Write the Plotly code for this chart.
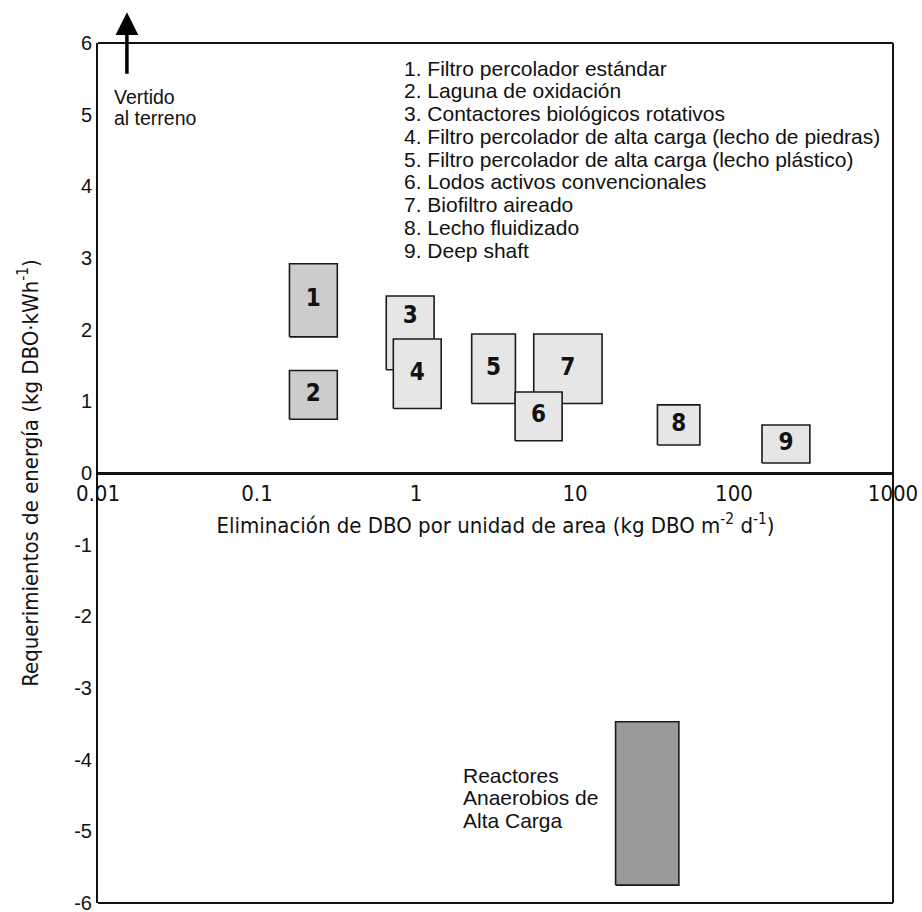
import plotly.graph_objects as go
import math

# ---- data ----
box_ids = ["1", "2", "3", "4", "5", "7", "6", "8", "9"]  # drawing order (later boxes on top)
box_x0 = [0.16, 0.16, 0.65, 0.72, 2.24, 5.5, 4.2, 33.0, 150.0]
box_x1 = [0.32, 0.32, 1.3, 1.44, 4.22, 14.8, 8.3, 61.0, 300.0]
box_y0 = [1.90, 0.75, 1.44, 0.90, 0.97, 0.97, 0.45, 0.39, 0.14]
box_y1 = [2.92, 1.43, 2.47, 1.87, 1.94, 1.94, 1.13, 0.95, 0.67]
box_group = ["dark", "dark", "light", "light", "light", "light", "light", "light", "light"]

anaer_x = [18.0, 45.0]
anaer_y = [-5.75, -3.47]

legend_items = [
    "1. Filtro percolador estándar",
    "2. Laguna de oxidación",
    "3. Contactores biológicos rotativos",
    "4. Filtro percolador de alta carga (lecho de piedras)",
    "5. Filtro percolador de alta carga (lecho plástico)",
    "6. Lodos activos convencionales",
    "7. Biofiltro aireado",
    "8. Lecho fluidizado",
    "9. Deep shaft",
]
land_lines = ["Vertido", "al terreno"]
anaer_lines = ["Reactores", "Anaerobios de", "Alta Carga"]

x_tickvals = [0.01, 0.1, 1, 10, 100, 1000]
x_ticktext = ["0.01", "0.1", "1", "10", "100", "1000"]
y_tickvals = [6, 5, 4, 3, 2, 1, 0, -1, -2, -3, -4, -5, -6]
y_ticktext = ["6", "5", "4", "3", "2", "1", "0", "-1", "-2", "-3", "-4", "-5", "-6"]

arrow_x = 0.0152
arrow_y_tail = 5.55
arrow_y_tip = 6.43

# ---- styles ----
ARIAL = "Liberation Sans, Arial, sans-serif"
NARROW = "Liberation Sans Narrow, Arial Narrow, DejaVu Sans Condensed, sans-serif"
fills = {"dark": "#cccccc", "light": "#e6e6e6"}
INK = "#111111"

fig = go.Figure()

for bid, x0, x1, y0, y1, g in zip(box_ids, box_x0, box_x1, box_y0, box_y1, box_group):
    fig.add_trace(go.Scatter(
        x=[x0, x1, x1, x0, x0], y=[y0, y0, y1, y1, y0],
        mode="lines", fill="toself", fillcolor=fills[g],
        line=dict(color="#1a1a1a", width=1.6), hoverinfo="skip", showlegend=False,
    ))

# label positions: geometric centre; box 3 label in its uncovered upper part
lab_x, lab_y = [], []
top4 = box_y1[box_ids.index("4")]
for bid, x0, x1, y0, y1 in zip(box_ids, box_x0, box_x1, box_y0, box_y1):
    lab_x.append(math.sqrt(x0 * x1))
    lab_y.append((top4 + y1) / 2 if bid == "3" else (y0 + y1) / 2)

fig.add_trace(go.Scatter(
    x=lab_x, y=lab_y, mode="text", text=[f"<b>{b}</b>" for b in box_ids],
    textfont=dict(family=NARROW, size=24, color=INK),
    hoverinfo="skip", showlegend=False,
))

fig.add_trace(go.Scatter(
    x=[anaer_x[0], anaer_x[1], anaer_x[1], anaer_x[0], anaer_x[0]],
    y=[anaer_y[0], anaer_y[0], anaer_y[1], anaer_y[1], anaer_y[0]],
    mode="lines", fill="toself", fillcolor="#9a9a9a",
    line=dict(color="#1a1a1a", width=1.6), hoverinfo="skip", showlegend=False,
))

PX_PER_UNIT = 860 / 12.0  # vertical scale of the plot area (for tight line spacing)


def text_block(lines, x_log, y_first, spacing_px, size):
    out = []
    for i, t in enumerate(lines):
        out.append(dict(x=x_log, y=y_first - i * spacing_px / PX_PER_UNIT, xref="x", yref="y",
                        xanchor="left", yanchor="middle", align="left", showarrow=False,
                        text=t, font=dict(family=ARIAL, size=size, color=INK)))
    return out


annotations = []
annotations += text_block(legend_items, -0.085, 5.651, 22.75, 21)
annotations += text_block(land_lines, -1.91, 5.25, 21.0, 19.5)
annotations += text_block(anaer_lines, 0.286, -4.22, 22.5, 21)
annotations.append(
    dict(x=math.log10(arrow_x), y=arrow_y_tip, ax=math.log10(arrow_x), ay=arrow_y_tail,
         xref="x", yref="y", axref="x", ayref="y", showarrow=True, text="",
         arrowhead=2, arrowsize=1.3, arrowwidth=3.5, arrowcolor="black", standoff=0))

frame = dict(color=INK, width=2)
fig.update_layout(
    width=922, height=912,
    margin=dict(l=98, r=29, t=43, b=9, autoexpand=False),
    plot_bgcolor="white", paper_bgcolor="white",
    showlegend=False,
    annotations=annotations,
    shapes=[
        dict(type="line", xref="paper", yref="paper", x0=0, x1=1, y0=1, y1=1, line=frame, layer="above"),
        dict(type="line", xref="paper", yref="paper", x0=0, x1=1, y0=0, y1=0, line=frame, layer="above"),
        dict(type="line", xref="paper", yref="paper", x0=1, x1=1, y0=0, y1=1, line=frame, layer="above"),
    ],
    xaxis=dict(
        type="log", range=[-2, 3], anchor="free", position=0.5, automargin=False,
        tickvals=x_tickvals, ticktext=x_ticktext, ticks="", ticklabeloverflow="allow",
        tickfont=dict(family=NARROW, size=22, color=INK),
        showgrid=False, zeroline=False, showline=True, linecolor=INK, linewidth=3,
        title=dict(text="Eliminación de DBO por unidad de area (kg DBO m<sup>-2</sup> d<sup>-1</sup>)",
                   font=dict(family=NARROW, size=22, color=INK), standoff=12),
    ),
    yaxis=dict(
        range=[-6, 6], tickvals=y_tickvals, ticktext=y_ticktext, ticks="", automargin=False,
        ticklabeloverflow="allow",
        tickfont=dict(family=ARIAL, size=20, color=INK),
        showgrid=False, zeroline=False, showline=True, linecolor=INK, linewidth=2,
        title=dict(text="Requerimientos de energía (kg DBO·kWh<sup>-1</sup>)",
                   font=dict(family=NARROW, size=22, color=INK), standoff=30),
    ),
)

fig.write_html(
    "out.html",
    config={"displayModeBar": False},
    post_script=("document.documentElement.style.overflow='hidden';"
                 "document.body.style.margin='0';document.body.style.overflow='hidden';"),
)
